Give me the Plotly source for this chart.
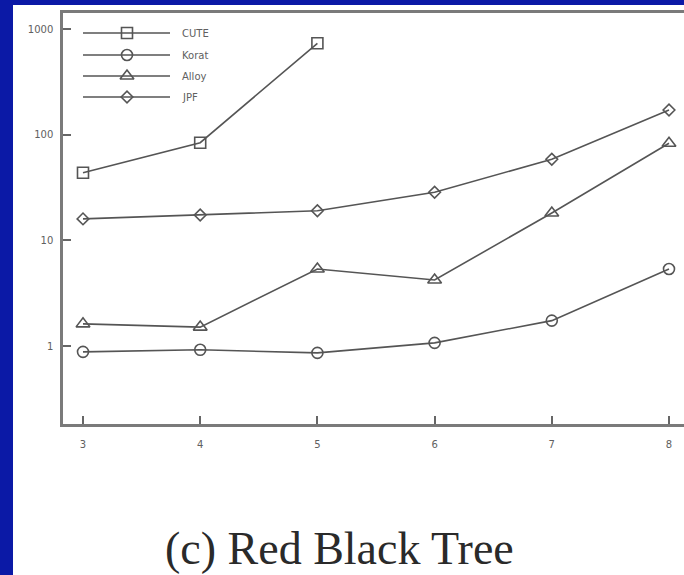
import plotly.graph_objects as go

# ---- data ----
x_vals = [3, 4, 5, 6, 7, 8]
cute = [43.8, 84.3, 737]
korat = [0.88, 0.92, 0.86, 1.07, 1.74, 5.36]
alloy = [1.62, 1.51, 5.36, 4.22, 18.2, 83.2]
jpf = [16.0, 17.4, 19.1, 28.6, 58.7, 172]
series_names = ["CUTE", "Korat", "Alloy", "JPF"]
y_tickvals = [1, 10, 100, 1000]
y_ticktext = ["1", "10", "100", "1000"]
caption = "(c) Red Black Tree"

W, H = 684, 575
L, T, B = 63, 13, 424
line_col = "#555555"
axis_col = "#7a7a7a"
symbols = ["square-open", "circle-open", "triangle-up-open", "diamond-open"]
sizes = [11, 11, 12, 9]
all_y = [cute, korat, alloy, jpf]
tick_font = dict(family="DejaVu Sans, Liberation Sans", size=10, color="#606060")

fig = go.Figure()
for name, ys, sym, sz in zip(series_names, all_y, symbols, sizes):
    fig.add_trace(go.Scatter(
        x=x_vals[:len(ys)], y=ys, mode="lines+markers", name=name,
        line=dict(color=line_col, width=1.6),
        marker=dict(symbol=sym, size=sz, color=line_col,
                    line=dict(color=line_col, width=1.6)),
        showlegend=False, cliponaxis=False,
    ))

# custom legend drawn on an overlay axis measured in pixels
leg_rows = [33, 55, 76, 97]
for name, sym, sz, yy in zip(series_names, symbols, sizes, leg_rows):
    fig.add_trace(go.Scatter(
        x=[83, 170], y=[yy, yy], mode="lines", xaxis="x2", yaxis="y2",
        line=dict(color=line_col, width=1.6), showlegend=False, hoverinfo="skip",
    ))
    fig.add_trace(go.Scatter(
        x=[127], y=[yy], mode="markers", xaxis="x2", yaxis="y2",
        marker=dict(symbol=sym, size=sz, color=line_col,
                    line=dict(color=line_col, width=1.6)),
        showlegend=False, hoverinfo="skip", cliponaxis=False,
    ))
    fig.add_annotation(x=180, y=yy, xref="x2", yref="y2", text=name,
                       showarrow=False, xanchor="left", yanchor="middle",
                       font=tick_font)

x_lo = 3 - (83 - L) / 117.2
x_hi = x_lo + (W - L) / 117.2
y_lo = (346 - B) / 105.57
y_hi = (346 - T) / 105.57

fig.update_layout(
    width=W, height=H,
    margin=dict(l=L, r=0, t=T, b=H - B, pad=0),
    paper_bgcolor="#0b19a6",
    plot_bgcolor="white",
    showlegend=False,
    xaxis=dict(range=[x_lo, x_hi], tickvals=x_vals, ticks="inside", ticklen=8,
               tickwidth=1.5, tickcolor="#666666", showgrid=False, zeroline=False,
               showline=True, linecolor=axis_col, linewidth=2.5, mirror=True,
               ticklabelstandoff=9, tickfont=tick_font),
    yaxis=dict(type="log", range=[y_lo, y_hi], tickvals=y_tickvals, ticktext=y_ticktext,
               ticks="inside", ticklen=8, tickwidth=1.5, tickcolor="#666666",
               showgrid=False, zeroline=False, showline=True, linecolor=axis_col,
               linewidth=2.5, ticklabelstandoff=5, tickfont=tick_font),
    xaxis2=dict(overlaying="x", range=[L, W], visible=False),
    yaxis2=dict(overlaying="y", range=[B, T], visible=False),
    font=dict(family="DejaVu Sans, Liberation Sans"),
)

# white panel behind the chart
fig.add_shape(type="rect", xref="paper", yref="paper",
              x0=(13 - L) / (W - L), x1=1.0,
              y0=-(H - B) / (B - T), y1=1 + (T - 5) / (B - T),
              fillcolor="white", line=dict(width=0), layer="below")

fig.add_annotation(text=caption, xref="paper", yref="paper",
                   x=(339 - L) / (W - L), y=-(548 - B) / (B - T),
                   showarrow=False, xanchor="center", yanchor="middle",
                   font=dict(family="Liberation Serif, DejaVu Serif, serif", size=46, color="#2a2a2a"))

fig.write_html("out.html")
